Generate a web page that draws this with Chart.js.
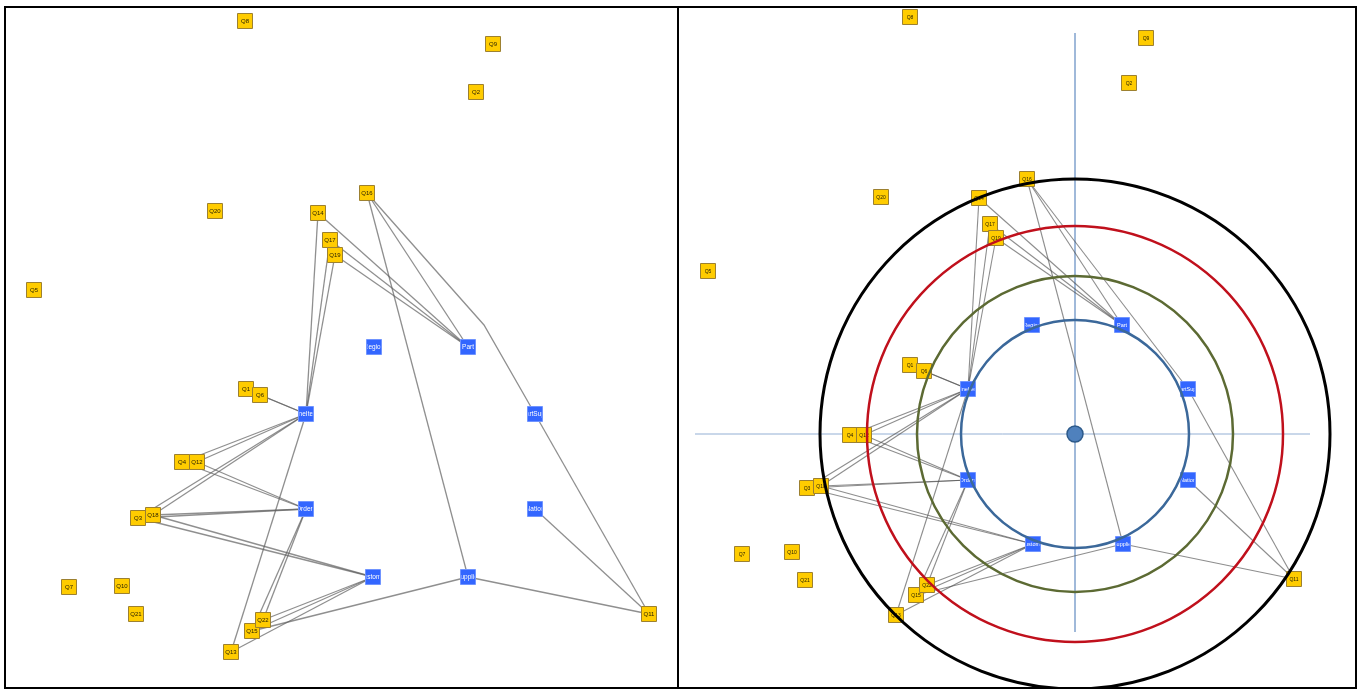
<!DOCTYPE html>
<html><head><meta charset="utf-8">
<script src="https://cdn.jsdelivr.net/npm/chart.js@4.4.1/dist/chart.umd.min.js"></script>
<style>
html,body{margin:0;padding:0;background:#fff;}
#frame{position:absolute;left:4px;top:6px;width:1353px;height:683px;box-sizing:border-box;border:2px solid #000;}
#divider{position:absolute;left:677px;top:6px;width:2px;height:683px;background:#000;}
#left{position:absolute;left:6px;top:8px;}
#right{position:absolute;left:679px;top:8px;}
</style></head><body>
<div id="frame"></div><div id="divider"></div>
<canvas id="left" width="671" height="679"></canvas>
<canvas id="right" width="676" height="679"></canvas>
<script>
// ---- data ----
const queryNames = ['Q1','Q2','Q3','Q4','Q5','Q6','Q7','Q8','Q9','Q10','Q11','Q12','Q13','Q14','Q15','Q16','Q17','Q18','Q19','Q20','Q21','Q22'];
const tableNames = ['Region','Part','LineItem','PartSupp','Orders','Nation','Customer','Supplier'];

// left panel (screen-like coordinates, y grows downward)
const leftQX = [246,476,138,182,34,260,69,245,493,122,649,197,231,318,252,367,330,153,335,215,136,263];
const leftQY = [389,92,518,462,290,395,587,21,44,586,614,462,652,213,631,193,240,515,255,211,614,620];
const leftTX = [374,468,306,535,306,535,373,468];
const leftTY = [347,347,414,414,509,509,577,577];
const leftBends = {'Q16-PartSupp': [[484,325]]};

// right panel (centred coordinates, y grows upward)
const rightQX = [-165,54,-268,-225,-367,-151,-333,-165,71,-283,219,-211,-179,-96,-159,-48,-85,-254,-79,-194,-270,-148];
const rightQY = [69,351,-54,-1,163,63,-120,417,396,-118,-145,-1,-181,236,-161,255,210,-52,196,237,-146,-151];
const rightTX = [-43,47,-107,113,-107,113,-42,48];
const rightTY = [109,109,45,45,-46,-46,-110,-110];
const ringRadii = [114,158,208,255];
const axisH = [[-380,0],[235,0]];
const axisV = [[0,401],[0,-198]];

const edges = [
 ['Q14','LineItem'],['Q14','Part'],['Q17','LineItem'],['Q17','Part'],['Q19','LineItem'],['Q19','Part'],
 ['Q16','Part'],['Q16','Supplier'],['Q16','PartSupp'],
 ['Q1','LineItem'],['Q6','LineItem'],
 ['Q4','LineItem'],['Q12','LineItem'],['Q4','Orders'],['Q12','Orders'],
 ['Q3','LineItem'],['Q18','LineItem'],['Q3','Orders'],['Q18','Orders'],['Q3','Customer'],['Q18','Customer'],
 ['Q22','Orders'],['Q22','Customer'],['Q15','Orders'],['Q15','Customer'],['Q15','Supplier'],
 ['Q13','LineItem'],['Q13','Customer'],
 ['Q11','PartSupp'],['Q11','Nation'],['Q11','Supplier']
];

// ---- styles ----
const ringColors = ['#3b689a','#5c6a33','#c0101c','#000000'];
const ringWidths = [2.5,2.5,2.5,3];

const labelPlugin = {
  id: 'nodeLabels',
  afterDatasetDraw(chart, args) {
    const ds = chart.data.datasets[args.index];
    if (!ds.nodeNames) return;
    const ctx = chart.ctx;
    const meta = args.meta;
    meta.data.forEach((el, i) => {
      const half = 7.5;
      ctx.save();
      ctx.beginPath();
      ctx.rect(el.x - half + 1, el.y - half + 1, 2*half - 2, 2*half - 2);
      ctx.clip();
      ctx.fillStyle = ds.labelColor;
      ctx.font = ds.labelFont;
      ctx.textAlign = 'center';
      ctx.textBaseline = 'middle';
      ctx.fillText(ds.nodeNames[i], el.x, el.y + 0.5);
      ctx.restore();
    });
  }
};

const ringPlugin = {
  id: 'rings',
  afterDatasetsDraw(chart) {
    if (!chart.options.plugins.rings || !chart.options.plugins.rings.on) return;
    const xs = chart.scales.x, ys = chart.scales.y, ctx = chart.ctx, a = chart.chartArea;
    const cx = xs.getPixelForValue(0), cy = ys.getPixelForValue(0);
    ctx.save();
    ctx.beginPath(); ctx.rect(a.left, a.top, a.right - a.left, a.bottom - a.top); ctx.clip();
    ringRadii.forEach((r, i) => {
      const rp = xs.getPixelForValue(r) - cx;
      ctx.beginPath();
      ctx.arc(cx, cy, rp, 0, Math.PI*2);
      ctx.strokeStyle = ringColors[i];
      ctx.lineWidth = ringWidths[i];
      ctx.stroke();
    });
    ctx.restore();
  }
};

function buildChart(canvasId, qx, qy, tx, ty, bends, scales, extra, qFont, tFont, rings, edgeColor, edgeWidth) {
  const pos = {};
  queryNames.forEach((n,i) => pos[n] = [qx[i], qy[i]]);
  tableNames.forEach((n,i) => pos[n] = [tx[i], ty[i]]);
  const datasets = [];
  edges.forEach(([a,b]) => {
    const via = bends[a + '-' + b] || [];
    const pts = [pos[a], ...via, pos[b]].map(p => ({x:p[0], y:p[1]}));
    datasets.push({type:'line', data:pts, borderColor:edgeColor, borderWidth:edgeWidth, pointRadius:0, fill:false, tension:0, order:10, clip:false});
  });
  datasets.push({
    type:'scatter', data: queryNames.map((n,i)=>({x:qx[i], y:qy[i]})),
    pointStyle:'rect', pointRadius:10.6, backgroundColor:'#ffcc00', borderColor:'#9c8030', borderWidth:1,
    order:2, clip:false, nodeNames:queryNames, labelColor:'#2a2200', labelFont:qFont
  });
  datasets.push({
    type:'scatter', data: tableNames.map((n,i)=>({x:tx[i], y:ty[i]})),
    pointStyle:'rect', pointRadius:10.6, backgroundColor:'#3366ff', borderColor:'#7094ff', borderWidth:1,
    order:1, clip:false, nodeNames:tableNames, labelColor:'#ffffff', labelFont:tFont
  });
  extra.forEach(d => datasets.push(d));
  return new Chart(document.getElementById(canvasId), {
    type:'scatter',
    data:{datasets},
    options:{
      responsive:false, animation:false, events:[],
      layout:{padding:0, autoPadding:false},
      plugins:{legend:{display:false}, tooltip:{enabled:false}, rings:{on:rings}},
      scales:{
        x:{type:'linear', display:false, min:scales[0], max:scales[1]},
        y:{type:'linear', display:false, min:scales[2], max:scales[3], reverse:scales[4]}
      }
    },
    plugins:[labelPlugin, ringPlugin]
  });
}

buildChart('left', leftQX, leftQY, leftTX, leftTY, leftBends, [6,677,8,687,true], [],
  '6px "Liberation Sans", Arial, sans-serif', '6.5px "Liberation Sans", Arial, sans-serif', false,
  'rgba(95,95,95,0.7)', 1.3);

const rightExtra = [
  {type:'line', data:axisH.map(p=>({x:p[0],y:p[1]})), borderColor:'#93afd4', borderWidth:1, pointRadius:0, order:30},
  {type:'line', data:axisV.map(p=>({x:p[0],y:p[1]})), borderColor:'#93afd4', borderWidth:1, pointRadius:0, order:30},
  {type:'scatter', data:[{x:0,y:0}], pointStyle:'circle', pointRadius:8, backgroundColor:'#4f81bd', borderColor:'#2d5a8a', borderWidth:1.5, order:0}
];
buildChart('right', rightQX, rightQY, rightTX, rightTY, {}, [-396,280,-253,426,false], rightExtra,
  '5px "Liberation Sans", Arial, sans-serif', '5.5px "Liberation Sans", Arial, sans-serif', true,
  'rgba(80,80,80,0.65)', 1.1);
</script>
</body></html>
